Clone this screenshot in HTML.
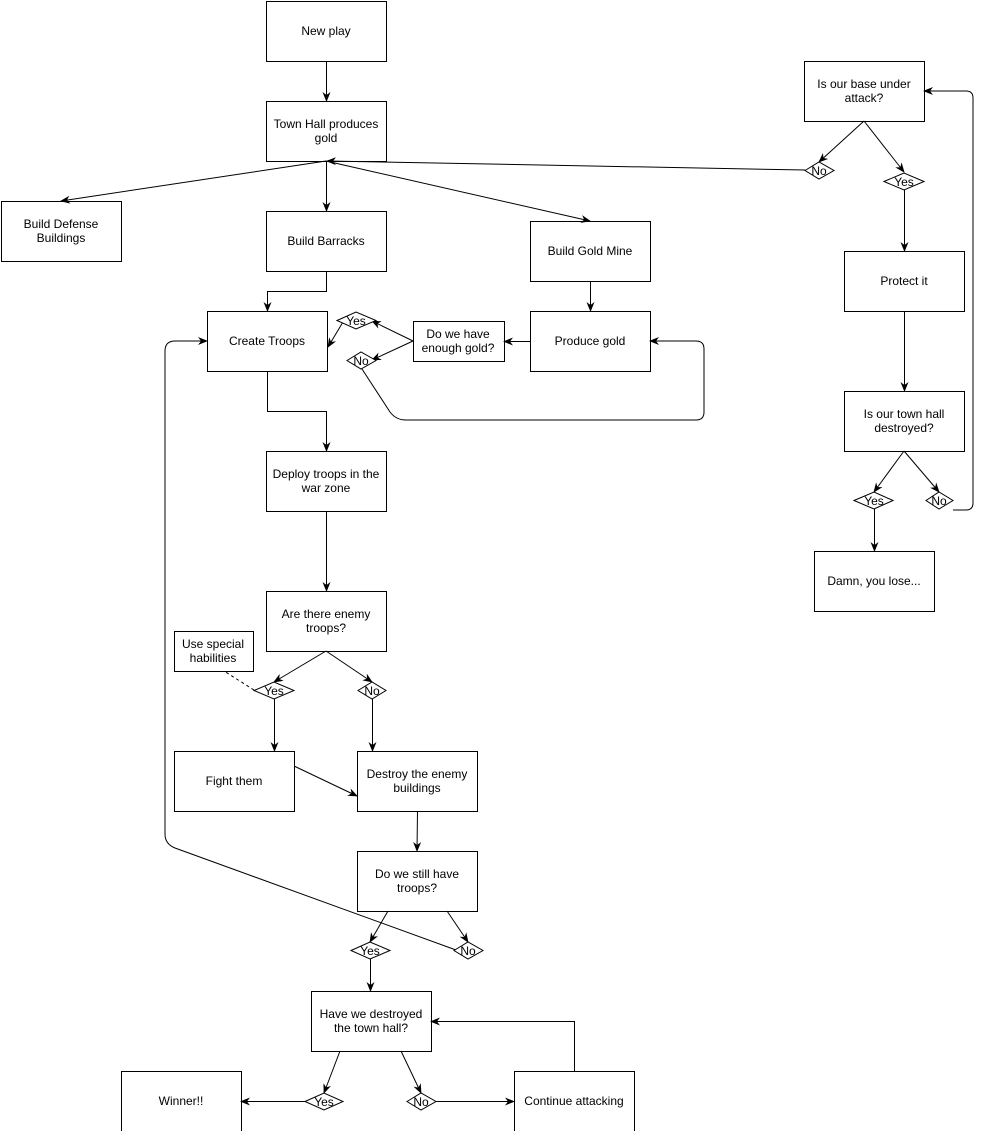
<!DOCTYPE html>
<html><head><meta charset="utf-8"><style>
html,body{margin:0;padding:0;background:#fff;}
body{width:983px;height:1131px;overflow:hidden;}
text{font-family:"Liberation Sans",Arial,sans-serif;font-size:12px;fill:#000;}
</style></head><body>
<svg width="983" height="1131" viewBox="0 0 983 1131" xmlns="http://www.w3.org/2000/svg">
<defs><marker id="a" markerWidth="10" markerHeight="8" refX="9" refY="4" orient="auto" markerUnits="userSpaceOnUse"><path d="M0,0 L10,4 L0,8 L3,4 Z" fill="#000"/></marker></defs>
<g fill="#fff" stroke="#000" stroke-width="1">
<rect x="266.5" y="1.5" width="120" height="60"/>
<rect x="266.5" y="101.5" width="120" height="60"/>
<rect x="1.5" y="201.5" width="120" height="60"/>
<rect x="266.5" y="211.5" width="120" height="60"/>
<rect x="530.5" y="221.5" width="120" height="60"/>
<rect x="207.5" y="311.5" width="120" height="60"/>
<rect x="413.5" y="321.5" width="91" height="40"/>
<rect x="530.5" y="311.5" width="120" height="60"/>
<rect x="266.5" y="451.5" width="120" height="60"/>
<rect x="266.5" y="591.5" width="120" height="60"/>
<rect x="174.5" y="631.5" width="79" height="40"/>
<rect x="174.5" y="751.5" width="120" height="60"/>
<rect x="357.5" y="751.5" width="120" height="60"/>
<rect x="357.5" y="851.5" width="120" height="60"/>
<rect x="311.5" y="991.5" width="120" height="60"/>
<rect x="121.5" y="1071.5" width="120" height="60"/>
<rect x="514.5" y="1071.5" width="120" height="60"/>
<rect x="804.5" y="61.5" width="120" height="60"/>
<rect x="844.5" y="251.5" width="120" height="60"/>
<rect x="844.5" y="391.5" width="120" height="60"/>
<rect x="814.5" y="551.5" width="120" height="60"/>
</g>
<g fill="none" stroke="#000" stroke-width="1">
<line x1="326.5" y1="61" x2="326.5" y2="101" marker-end="url(#a)"/>
<line x1="326.5" y1="161" x2="326.5" y2="211" marker-end="url(#a)"/>
<line x1="326" y1="161" x2="61" y2="201" marker-end="url(#a)"/>
<line x1="326" y1="161" x2="590" y2="221" marker-end="url(#a)"/>
<line x1="805" y1="170" x2="327" y2="161" marker-end="url(#a)"/>
<line x1="864" y1="121" x2="819" y2="162" marker-end="url(#a)"/>
<line x1="864" y1="121" x2="904" y2="172" marker-end="url(#a)"/>
<line x1="904.5" y1="190" x2="904.5" y2="251" marker-end="url(#a)"/>
<line x1="904.5" y1="311" x2="904.5" y2="391" marker-end="url(#a)"/>
<line x1="904" y1="451" x2="874" y2="492" marker-end="url(#a)"/>
<line x1="904" y1="451" x2="939" y2="492" marker-end="url(#a)"/>
<line x1="874.5" y1="509" x2="874.5" y2="551" marker-end="url(#a)"/>
<path d="M953,510 H966 Q973,510 973,503 V98 Q973,91 966,91 H924" marker-end="url(#a)"/>
<path d="M326.5,271 V291.5 H267.5 V311" marker-end="url(#a)"/>
<line x1="590.5" y1="281" x2="590.5" y2="311" marker-end="url(#a)"/>
<line x1="530" y1="341.5" x2="504" y2="341.5" marker-end="url(#a)"/>
<line x1="413" y1="341" x2="372" y2="321" marker-end="url(#a)"/>
<line x1="413" y1="341" x2="372" y2="360" marker-end="url(#a)"/>
<line x1="343" y1="322" x2="328" y2="347" marker-end="url(#a)"/>
<path d="M362,369 L390,412 Q396,420 406,420 H696 Q704,420 704,412 V349 Q704,341 696,341 H650" marker-end="url(#a)"/>
<path d="M267.5,371 V411.5 H326.5 V451" marker-end="url(#a)"/>
<line x1="326.5" y1="511" x2="326.5" y2="591" marker-end="url(#a)"/>
<line x1="326" y1="651" x2="274" y2="682" marker-end="url(#a)"/>
<line x1="326" y1="651" x2="372" y2="682" marker-end="url(#a)"/>
<line x1="274.5" y1="699" x2="274.5" y2="751" marker-end="url(#a)"/>
<line x1="372.5" y1="699" x2="372.5" y2="751" marker-end="url(#a)"/>
<line x1="254" y1="690" x2="224" y2="671" stroke-dasharray="3,3"/>
<line x1="294" y1="766" x2="357" y2="796" marker-end="url(#a)"/>
<line x1="417.5" y1="811" x2="417" y2="851" marker-end="url(#a)"/>
<line x1="388" y1="911" x2="370" y2="942" marker-end="url(#a)"/>
<line x1="447" y1="911" x2="468" y2="942" marker-end="url(#a)"/>
<path d="M456,950 L175,848 Q165,844 165,834 V351 Q165,341 175,341 H207" marker-end="url(#a)"/>
<line x1="370.5" y1="959" x2="370.5" y2="991" marker-end="url(#a)"/>
<line x1="340" y1="1051" x2="324" y2="1093" marker-end="url(#a)"/>
<line x1="401" y1="1051" x2="421" y2="1093" marker-end="url(#a)"/>
<line x1="305" y1="1101.5" x2="241" y2="1101.5" marker-end="url(#a)"/>
<line x1="436" y1="1101.5" x2="514" y2="1101.5" marker-end="url(#a)"/>
<path d="M574.5,1071 V1021.5 H431" marker-end="url(#a)"/>
</g>
<g fill="#fff" stroke="#000" stroke-width="1">
<polygon points="805,170.5 819,162 834,170.5 819,179"/>
<polygon points="884,181.5 904,173 924,181.5 904,190"/>
<polygon points="337,320.5 356,312 376,320.5 356,329"/>
<polygon points="347,360.5 361,352 376,360.5 361,369"/>
<polygon points="254,690.5 274,682 294,690.5 274,699"/>
<polygon points="358,690.5 372,682 386,690.5 372,699"/>
<polygon points="351,950.5 370,942 390,950.5 370,959"/>
<polygon points="454,950.5 468,942 483,950.5 468,959"/>
<polygon points="854,500.5 874,492 893,500.5 874,509"/>
<polygon points="926,500.5 939,492 953,500.5 939,509"/>
<polygon points="305,1101.5 324,1093 343,1101.5 324,1110"/>
<polygon points="407,1101.5 421,1093 436,1101.5 421,1110"/>
</g>
<g text-anchor="middle">
<text x="326" y="35">New play</text>
<text x="326" y="128">Town Hall produces</text><text x="326" y="142">gold</text>
<text x="61" y="228">Build Defense</text><text x="61" y="242">Buildings</text>
<text x="326" y="245">Build Barracks</text>
<text x="590" y="255">Build Gold Mine</text>
<text x="267" y="345">Create Troops</text>
<text x="458" y="338">Do we have</text><text x="458" y="352">enough gold?</text>
<text x="590" y="345">Produce gold</text>
<text x="326" y="478">Deploy troops in the</text><text x="326" y="492">war zone</text>
<text x="326" y="618">Are there enemy</text><text x="326" y="632">troops?</text>
<text x="213" y="648">Use special</text><text x="213" y="662">habilities</text>
<text x="234" y="785">Fight them</text>
<text x="417" y="778">Destroy the enemy</text><text x="417" y="792">buildings</text>
<text x="417" y="878">Do we still have</text><text x="417" y="892">troops?</text>
<text x="371" y="1018">Have we destroyed</text><text x="371" y="1032">the town hall?</text>
<text x="181" y="1105">Winner!!</text>
<text x="574" y="1105">Continue attacking</text>
<text x="864" y="88">Is our base under</text><text x="864" y="102">attack?</text>
<text x="904" y="285">Protect it</text>
<text x="904" y="418">Is our town hall</text><text x="904" y="432">destroyed?</text>
<text x="874" y="585">Damn, you lose...</text>
<text x="819" y="175">No</text>
<text x="904" y="186">Yes</text>
<text x="356" y="325">Yes</text>
<text x="361" y="365">No</text>
<text x="274" y="695">Yes</text>
<text x="372" y="695">No</text>
<text x="370" y="955">Yes</text>
<text x="468" y="955">No</text>
<text x="874" y="505">Yes</text>
<text x="939" y="505">No</text>
<text x="324" y="1106">Yes</text>
<text x="421" y="1106">No</text>
</g>
</svg>
</body></html>
